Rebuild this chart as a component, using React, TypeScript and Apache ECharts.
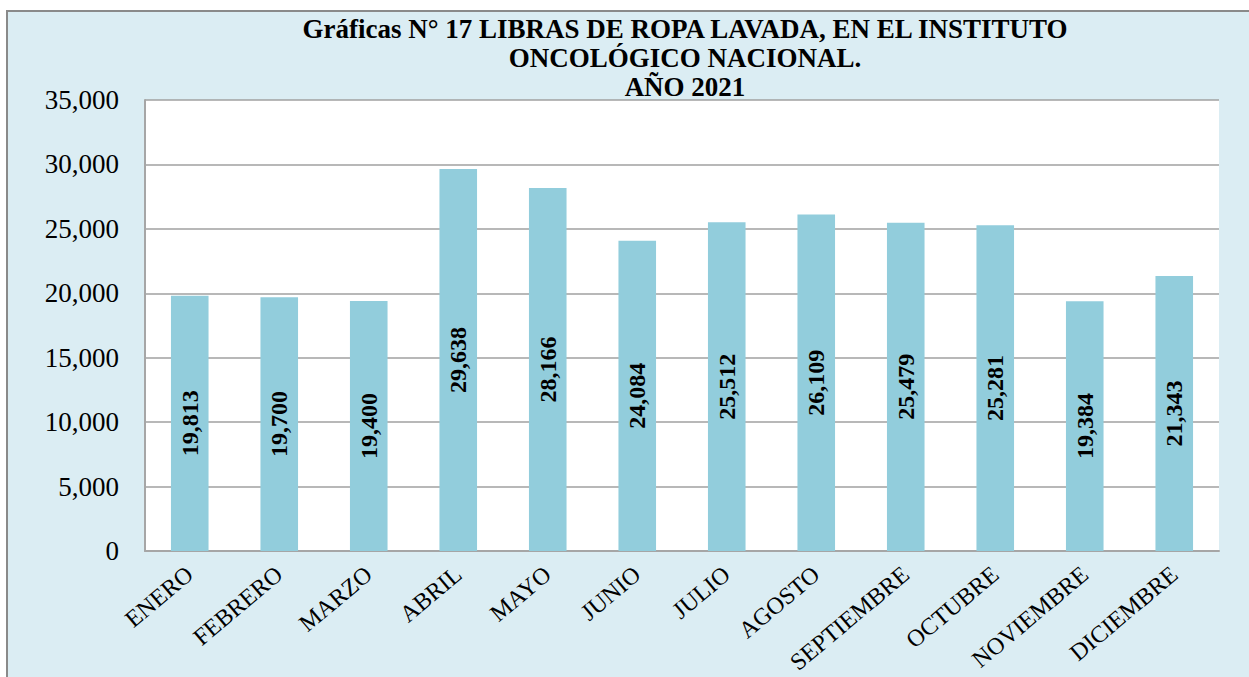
import React, { useEffect, useRef } from "react";
import * as echarts from "echarts";

const months = [
  "ENERO", "FEBRERO", "MARZO", "ABRIL", "MAYO", "JUNIO",
  "JULIO", "AGOSTO", "SEPTIEMBRE", "OCTUBRE", "NOVIEMBRE", "DICIEMBRE",
];
const libras = [19813, 19700, 19400, 29638, 28166, 24084, 25512, 26109, 25479, 25281, 19384, 21343];
const titleLines = [
  "Gráficas N° 17 LIBRAS DE ROPA LAVADA, EN EL INSTITUTO",
  "ONCOLÓGICO NACIONAL.",
  "AÑO 2021",
];

const SERIF = "'Liberation Serif', 'Times New Roman', serif";
const fmt = (v: number) => v.toLocaleString("en-US");

export default function App() {
  const ref = useRef<HTMLDivElement>(null);
  useEffect(() => {
    if (!ref.current) return;
    const chart = echarts.init(ref.current, null, { renderer: "svg" });
    chart.setOption({
      animation: false,
      backgroundColor: "#ffffff",
      graphic: [
        {
          type: "rect",
          z: -10,
          silent: true,
          shape: { x: 7, y: 11, width: 1260, height: 700 },
          style: { fill: "#DBEDF3", stroke: "#8A8A8A", lineWidth: 2 },
        },
      ],
      title: {
        text: titleLines.join("\n"),
        left: 680,
        top: 9,
        textAlign: "center",
        textStyle: {
          fontFamily: SERIF,
          fontWeight: "bold",
          fontSize: 27,
          lineHeight: 29,
          color: "#000",
        },
      },
      grid: {
        left: 145,
        top: 100,
        right: 30,
        bottom: 126,
        show: true,
        backgroundColor: "#ffffff",
        borderWidth: 0,
      },
      xAxis: {
        type: "category",
        data: months,
        axisLine: { show: true, lineStyle: { color: "#A6A6A6", width: 2 } },
        axisTick: { show: false },
        axisLabel: {
          rotate: 40,
          margin: 20,
          interval: 0,
          fontFamily: SERIF,
          fontSize: 24,
          color: "#000",
        },
      },
      yAxis: {
        type: "value",
        min: 0,
        max: 35000,
        interval: 5000,
        axisLine: { show: true, lineStyle: { color: "#A6A6A6", width: 2 } },
        axisTick: { show: false },
        splitLine: { lineStyle: { color: "#A0A0A0", width: 1.5 } },
        axisLabel: {
          margin: 26,
          fontFamily: SERIF,
          fontSize: 27,
          color: "#000",
          formatter: (v: number) => fmt(v),
        },
      },
      series: [
        {
          type: "bar",
          data: libras,
          barWidth: "42%",
          itemStyle: { color: "#92CDDC" },
          label: {
            show: true,
            position: "inside",
            rotate: 90,
            fontFamily: SERIF,
            fontWeight: "bold",
            fontSize: 24,
            color: "#000",
            formatter: (p: any) => fmt(p.value),
          },
        },
      ],
    });
    return () => chart.dispose();
  }, []);
  return (
    <div
      ref={ref}
      style={{ position: "fixed", left: 0, top: 0, width: 1249, height: 677 }}
    />
  );
}
